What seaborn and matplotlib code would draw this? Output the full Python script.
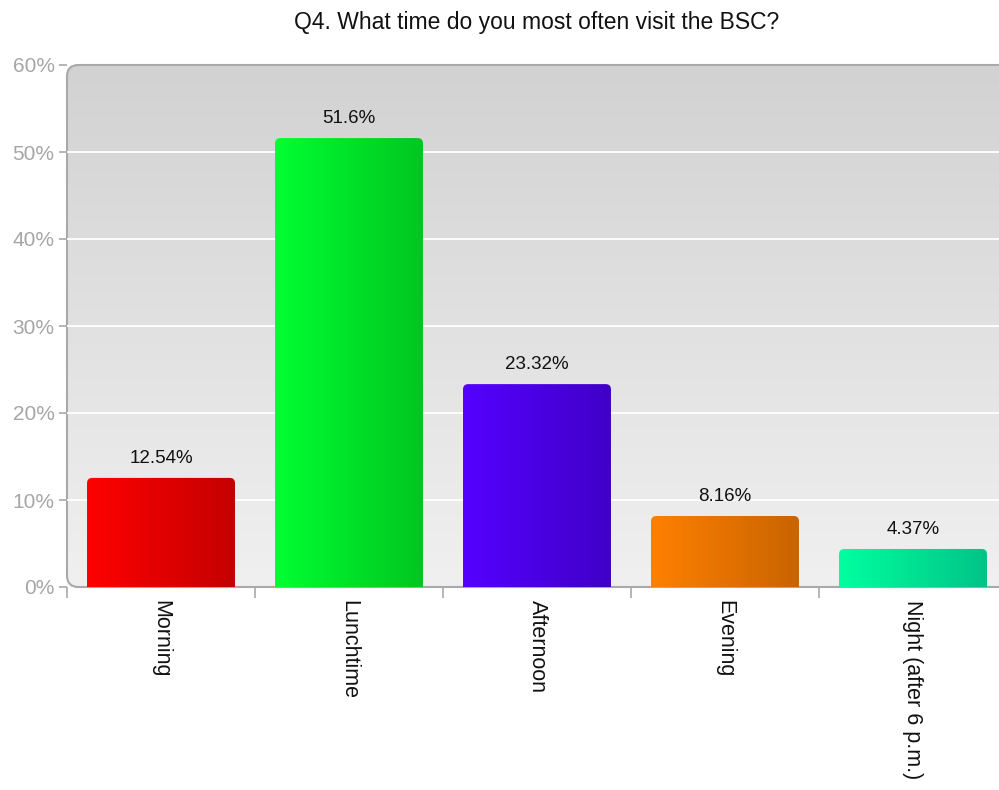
import numpy as np
import matplotlib
matplotlib.use("Agg")
import matplotlib.pyplot as plt
import seaborn as sns
from matplotlib.patches import FancyBboxPatch
from matplotlib.colors import LinearSegmentedColormap

categories = ["Morning", "Lunchtime", "Afternoon", "Evening", "Night (after 6 p.m.)"]
values = [12.54, 51.6, 23.32, 8.16, 4.37]
light_colors = ["#ff0000", "#00ff33", "#5500ff", "#ff8000", "#00ffa0"]
dark_colors = ["#c40000", "#00c61f", "#4000c8", "#c86400", "#00c487"]
y_ticks = [0, 10, 20, 30, 40, 50, 60]
title = "Q4. What time do you most often visit the BSC?"

sns.set_style("white")
plt.rcParams["font.family"] = ["Liberation Sans", "DejaVu Sans"]

W, H = 999, 790
fig = plt.figure(figsize=(W / 100, H / 100), dpi=100)
ax_left, ax_bottom, ax_right, ax_top = 67, 587, 1007, 65
ax = fig.add_axes([ax_left / W, 1 - ax_bottom / H, (ax_right - ax_left) / W, (ax_bottom - ax_top) / H])

sns.barplot(x=categories, y=values, hue=categories, palette=light_colors,
            legend=False, width=0.787, ax=ax, saturation=1)
ax.set_xlim(-0.5, len(categories) - 0.5)
ax.set_ylim(0, 60)
ax.patch.set_visible(False)
for s in ax.spines.values():
    s.set_visible(False)

# background gradient with rounded border (right side runs off the figure)
bg = FancyBboxPatch((0, 0), 1.1, 1, boxstyle="round,pad=0,rounding_size=0.012",
                    mutation_aspect=(ax_right - ax_left) / (ax_bottom - ax_top),
                    transform=ax.transAxes, facecolor="none", edgecolor="#a9a9a9",
                    lw=1.5, zorder=0.5, clip_on=False)
ax.add_patch(bg)
grad = np.linspace(0, 1, 256).reshape(-1, 1)
bgcmap = LinearSegmentedColormap.from_list("bg", ["#d2d2d2", "#f0f0f0"])
im = ax.imshow(grad, aspect="auto", cmap=bgcmap, extent=[0, 1, 0, 1], origin="upper",
               transform=ax.transAxes, zorder=0, interpolation="bicubic")
im.set_clip_path(bg)

# grid lines
for t in y_ticks[1:-1]:
    ax.axhline(t, color="white", lw=1.3, zorder=0.8)

# gradient bars
xpx_per_unit = (ax_right - ax_left) / len(categories)
ypx_per_unit = (ax_bottom - ax_top) / 60
aspect = xpx_per_unit / ypx_per_unit
for i, p in enumerate(ax.patches[:len(categories)]):
    x0, y0 = p.get_x(), p.get_y()
    w, h = p.get_width(), p.get_height()
    p.set_visible(False)
    clip = FancyBboxPatch((x0, y0 - 2), w, h + 2,
                          boxstyle="round,pad=0,rounding_size=0.028",
                          mutation_aspect=aspect, facecolor="none", edgecolor="none",
                          transform=ax.transData)
    ax.add_patch(clip)
    cmap = LinearSegmentedColormap.from_list(f"b{i}", [light_colors[i], dark_colors[i]])
    img = ax.imshow(np.linspace(0, 1, 256).reshape(1, -1), aspect="auto", cmap=cmap,
                    extent=[x0, x0 + w, y0, y0 + h], zorder=2, interpolation="bicubic")
    img.set_clip_path(clip)
    ax.annotate(f"{values[i]:g}%", (x0 + w / 2, y0 + h), xytext=(0, 8),
                textcoords="offset points", ha="center", va="bottom",
                fontsize=13.5, color="#111111", zorder=3)

ax.set_xlim(-0.5, len(categories) - 0.5)
ax.set_ylim(0, 60)

# y axis
ax.set_yticks(y_ticks)
ax.set_yticklabels([f"{t}%" for t in y_ticks])
ax.tick_params(axis="y", length=6, width=1.2, color="#a9a9a9", labelcolor="#a6a6a6",
               labelsize=15, pad=3, left=True)

# x axis: ticks at boundaries, labels at centers
ax.set_xticks(np.arange(len(categories)) - 0.5)
ax.set_xticklabels([])
ax.tick_params(axis="x", which="major", length=8, width=1.2, color="#a9a9a9", bottom=True)
ax.set_xticks(np.arange(len(categories)), minor=True)
ax.set_xticklabels(categories, minor=True, rotation=270, fontsize=15.5, color="#111111",
                   va="top", ha="center")
ax.tick_params(axis="x", which="minor", length=0, pad=9)
ax.set_xlabel("")
ax.set_ylabel("")

fig.text((ax_left + ax_right) / 2 / W, 1 - 22 / H, title, ha="center", va="center",
         fontsize=16.5, color="#111111")

fig.savefig("out.png", dpi=100)
